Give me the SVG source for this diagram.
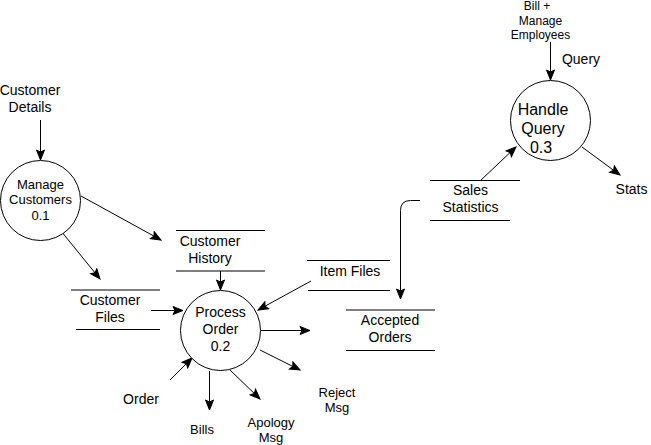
<svg xmlns="http://www.w3.org/2000/svg" width="651" height="445" viewBox="0 0 651 445">
<defs>
<marker id="arr" markerUnits="userSpaceOnUse" markerWidth="12" markerHeight="10" viewBox="0 0 12 10" refX="11" refY="5" orient="auto">
<path d="M1,1 L11,5 L1,9 L3,5 z" fill="#000" stroke="#000" stroke-width="1"/>
</marker>
<style>
text{font-family:"Liberation Sans",Arial,sans-serif;fill:#000;text-anchor:middle}
.proc circle{fill:#fff;stroke:#000;stroke-width:1}
.store line{stroke:#000;stroke-width:1}
#connectors path{fill:none;stroke:#000;stroke-width:1;marker-end:url(#arr)}
.f14{font-size:14px}.f13{font-size:13px}.f16{font-size:16px}.f12{font-size:12px}
</style>
</defs>
<rect width="651" height="445" fill="#fff"/>
<g id="connectors">
<path d="M40.5,120 L40.5,160"/>
<path d="M81,196 L161,240"/>
<path d="M61,231 L100,279"/>
<path d="M220.5,271 L220.5,290"/>
<path d="M151,310.5 L183,310.5"/>
<path d="M311,281 L258,310"/>
<path d="M261,330.5 L310,330.5"/>
<path d="M260,350 L300,370"/>
<path d="M230,370 L260,399"/>
<path d="M209.5,371 L209.5,410"/>
<path d="M170,380 L192,358"/>
<path d="M420,200.5 L410.5,200.5 Q400.5,200.5 400.5,210.5 L400.5,299"/>
<path d="M550.5,42 L550.5,80"/>
<path d="M481,180 L516,147"/>
<path d="M582,147 L620,175"/>
</g>
<g id="ext-customer-details"><text class="f14" x="30" y="95">Customer</text><text class="f14" x="30" y="112">Details</text></g>
<g id="manage-customers" class="proc">
<circle cx="40.5" cy="200.5" r="40"/>
<text class="f13" x="40.5" y="188.5">Manage</text><text class="f13" x="40.5" y="204">Customers</text><text class="f13" x="40.5" y="220">0.1</text>
</g>
<g id="customer-history" class="store">
<line x1="176" y1="230.5" x2="265" y2="230.5"/><line x1="176" y1="271" x2="265" y2="271"/>
<text class="f14" x="210" y="246">Customer</text><text class="f14" x="210" y="263">History</text>
</g>
<g id="customer-files" class="store">
<line x1="71" y1="290" x2="160" y2="290"/><line x1="76" y1="329.5" x2="160" y2="329.5"/>
<text class="f14" x="110" y="305">Customer</text><text class="f14" x="110" y="322">Files</text>
</g>
<g id="process-order" class="proc">
<circle cx="220.5" cy="330.5" r="40"/>
<text class="f14" x="220.5" y="317">Process</text><text class="f14" x="220.5" y="334">Order</text><text class="f14" x="220.5" y="351">0.2</text>
</g>
<g id="item-files" class="store">
<line x1="307" y1="260.5" x2="390" y2="260.5"/><line x1="308" y1="290.5" x2="390" y2="290.5"/>
<text class="f14" x="350" y="276">Item Files</text>
</g>
<g id="accepted-orders" class="store">
<line x1="346" y1="310" x2="435" y2="310"/><line x1="346" y1="350.5" x2="435" y2="350.5"/>
<text class="f14" x="390" y="325">Accepted</text><text class="f14" x="390" y="342">Orders</text>
</g>
<g id="reject-msg"><text class="f13" x="337" y="396.5">Reject</text><text class="f13" x="337" y="412">Msg</text></g>
<g id="apology-msg"><text class="f13" x="271" y="426.5">Apology</text><text class="f13" x="271" y="441.5">Msg</text></g>
<g id="bills"><text class="f13" x="202" y="434">Bills</text></g>
<g id="order"><text class="f14" x="141" y="404">Order</text></g>
<g id="sales-statistics" class="store">
<line x1="430" y1="180.5" x2="520" y2="180.5"/><line x1="430" y1="220.5" x2="510" y2="220.5"/>
<text class="f14" x="470.5" y="195">Sales</text><text class="f14" x="470.5" y="212">Statistics</text>
</g>
<g id="handle-query" class="proc">
<circle cx="550.5" cy="120.5" r="40"/>
<text class="f16" x="543" y="114.5">Handle</text><text class="f16" x="543" y="133.5">Query</text><text class="f16" x="541" y="152.5">0.3</text>
</g>
<g id="bill-manage-employees"><text class="f12" x="537" y="9.5">Bill +</text><text class="f12" x="540.5" y="24.5">Manage</text><text class="f12" x="540.5" y="38.5">Employees</text></g>
<g id="query"><text class="f14" x="581" y="64">Query</text></g>
<g id="stats"><text class="f14" x="631.5" y="194">Stats</text></g>
</svg>
